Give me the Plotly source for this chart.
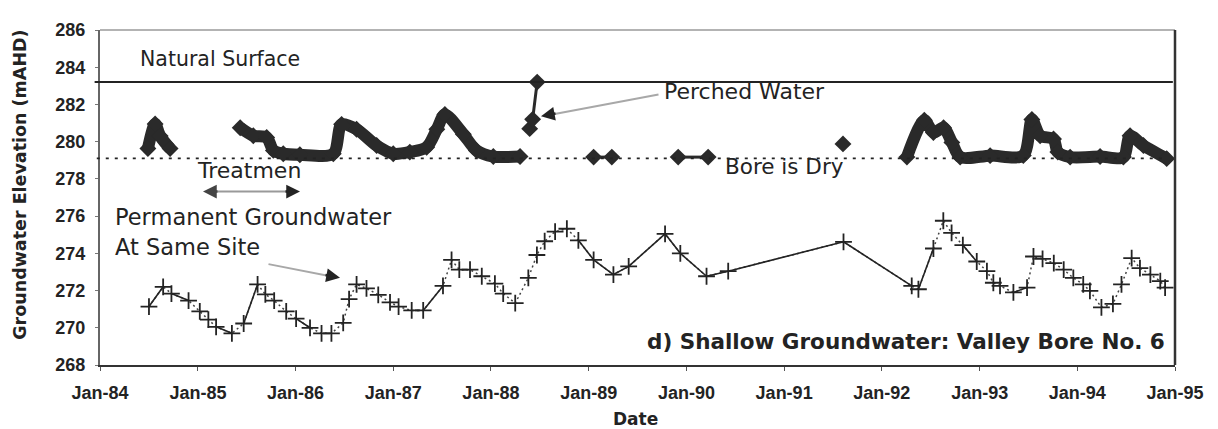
import plotly.graph_objects as go
import pandas as pd

# ---------------- data ----------------
# Permanent groundwater at same site (lower series, mAHD)
perm_dates = [
    "1984-07-02", "1984-08-24", "1984-09-24", "1984-11-27", "1985-01-08", "1985-02-09",
    "1985-03-10", "1985-05-08", "1985-06-21", "1985-08-12", "1985-09-10", "1985-10-13",
    "1985-11-27", "1986-01-03", "1986-02-24", "1986-04-08", "1986-05-15", "1986-06-28",
    "1986-07-20", "1986-08-17", "1986-09-23", "1986-11-06", "1986-12-20", "1987-01-21",
    "1987-03-11", "1987-04-23", "1987-07-06", "1987-08-07", "1987-09-05", "1987-10-15",
    "1987-11-28", "1988-01-16", "1988-02-16", "1988-04-01", "1988-05-20", "1988-06-21",
    "1988-07-20", "1988-08-28", "1988-10-11", "1988-11-23", "1989-01-19", "1989-04-03",
    "1989-05-30", "1989-10-13", "1989-12-09", "1990-03-17", "1990-06-06", "1991-08-11",
    "1992-04-22", "1992-05-17", "1992-07-12", "1992-08-18", "1992-09-18", "1992-10-30",
    "1992-12-21", "1993-01-28", "1993-02-21", "1993-03-18", "1993-05-07", "1993-06-27",
    "1993-07-21", "1993-08-24", "1993-10-05", "1993-11-11", "1993-12-17", "1994-01-23",
    "1994-02-17", "1994-04-01", "1994-05-14", "1994-06-15", "1994-07-23", "1994-08-23",
    "1994-10-01", "1994-11-07", "1994-11-25",
]
perm_values = [
    271.14, 272.2, 271.84, 271.46, 270.88, 270.44,
    270.05, 269.7, 270.23, 272.33, 271.8, 271.46,
    270.88, 270.49, 270.0, 269.7, 269.7, 270.26,
    271.54, 272.33, 272.12, 271.77, 271.37, 271.14,
    270.93, 270.93, 272.25, 273.65, 273.12, 273.12,
    272.77, 272.37, 271.84, 271.32, 272.68, 273.91,
    274.65, 275.17, 275.32, 274.7, 273.65, 272.86,
    273.3, 275.05, 274.0, 272.77, 273.04, 274.62,
    272.25, 272.07, 274.26, 275.75, 275.1, 274.44,
    273.56, 273.04, 272.42, 272.25, 271.9, 272.16,
    273.83, 273.7, 273.47, 273.12, 272.68, 272.33,
    271.98, 271.1, 271.28, 272.33, 273.74, 273.21,
    272.86, 272.51, 272.16,
]

# Perched water (shallow bore) - heavily smeared periods (None = break)
perched_dates = [
    "1984-06-28", "1984-07-25", "1984-08-13", "1984-09-19", None,
    "1985-06-08", "1985-07-27", "1985-09-15", "1985-10-10", "1985-11-16", "1986-01-17",
    "1986-05-22", "1986-06-22", "1986-08-17", "1986-10-31", "1987-01-01", "1987-03-04",
    "1987-05-06", "1987-06-13", "1987-07-13", "1987-09-20", "1987-11-08", "1988-01-10",
    "1988-04-19", None,
    "1992-04-04", "1992-06-08", "1992-07-12", "1992-08-19", "1992-09-19", "1992-10-20",
    "1993-02-09", "1993-06-13", "1993-07-15", "1993-08-15", "1993-10-04", "1993-10-20",
    "1993-12-05", "1994-03-27", "1994-06-22", "1994-07-17", "1994-09-05", "1994-12-01",
]
perched_values = [
    279.63, 280.95, 280.3, 279.63, None,
    280.75, 280.32, 280.23, 279.53, 279.35, 279.3,
    279.35, 280.93, 280.67, 279.79, 279.35, 279.44,
    279.7, 280.67, 281.46, 280.4, 279.53, 279.2,
    279.2, None,
    279.17, 281.15, 280.49, 280.75, 279.96, 279.17,
    279.25, 279.26, 281.19, 280.32, 280.14, 279.44,
    279.17, 279.2, 279.17, 280.32, 279.79, 279.09,
]

# Perched water / dry readings drawn as isolated diamonds
perched_thin_dates = ["1988-05-25", "1988-06-05", "1988-06-22", None,
                      "1989-01-19", "1989-03-28", None,
                      "1989-12-01", "1990-03-23", None,
                      "1991-08-09"]
perched_thin_values = [280.7, 281.2, 283.2, None,
                       279.17, 279.17, None,
                       279.17, 279.17, None,
                       279.88]

natural_surface = 283.2
bore_dry_level = 279.1

x_range = ["1984-01-01", "1995-01-01"]
y_range = [268, 286]

# ---------------- helpers (screen pixel -> paper) ----------------
OFF = 8  # page body margin in the browser
SW, SH = 1218, 429
L, R, T, B = 100, 1175, 23, 365  # plot area in screen pixels
W, H = SW - OFF, SH - OFF


def px(x):
    return (x - L) / (R - L)


def py(y):
    return (B - y) / (B - T)


INK = "#232323"
TXT = "DejaVu Sans"
TICKF = "Liberation Sans"

# solid connectors for long gaps between readings
d = pd.to_datetime(perm_dates)
solid_x, solid_y = [], []
for i in range(1, len(d)):
    if (d[i] - d[i - 1]).days > 50:
        solid_x += [perm_dates[i - 1], perm_dates[i], None]
        solid_y += [perm_values[i - 1], perm_values[i], None]

fig = go.Figure()

# dotted connection line (all readings)
fig.add_trace(go.Scatter(x=perm_dates, y=perm_values, mode="lines",
                         line=dict(color="#444", width=1.5, dash="2px,3px"),
                         hoverinfo="skip", showlegend=False))
fig.add_trace(go.Scatter(x=solid_x, y=solid_y, mode="lines",
                         line=dict(color=INK, width=1.6),
                         hoverinfo="skip", showlegend=False))
fig.add_trace(go.Scatter(x=perm_dates, y=perm_values, mode="markers",
                         marker=dict(symbol="cross-thin", size=12,
                                     line=dict(color=INK, width=1.8)),
                         name="Permanent Groundwater", showlegend=False))

# perched water: thick smeared line
fig.add_trace(go.Scatter(x=perched_dates, y=perched_values, mode="lines+markers",
                         line=dict(color="#2a2a2a", width=12, shape="spline", smoothing=0.8),
                         marker=dict(symbol="diamond", size=13, color="#2a2a2a"),
                         connectgaps=False, name="Perched Water", showlegend=False))
fig.add_trace(go.Scatter(x=perched_thin_dates, y=perched_thin_values, mode="lines+markers",
                         line=dict(color="#2a2a2a", width=3),
                         marker=dict(symbol="diamond", size=13, color="#2a2a2a"),
                         connectgaps=False, showlegend=False))

shapes = [
    # natural surface
    dict(type="line", xref="paper", yref="y", x0=-0.005, x1=0.998,
         y0=natural_surface, y1=natural_surface, line=dict(color=INK, width=2)),
    # bore is dry
    dict(type="line", xref="paper", yref="y", x0=-0.003, x1=0.99,
         y0=bore_dry_level, y1=bore_dry_level, line=dict(color=INK, width=1.6, dash="3px,6px")),
    # top frame
    dict(type="line", xref="paper", yref="paper", x0=0, x1=1, y0=1, y1=1,
         line=dict(color="#9a9a9a", width=1.5)),
    # right frame
    dict(type="line", xref="paper", yref="paper", x0=1, x1=1, y0=0, y1=1,
         line=dict(color="#333", width=2.5)),
]

ann = []


def text(s, x, y, size, xanchor="left", bold=False, color=INK):
    ann.append(dict(text=s, xref="paper", yref="paper", x=px(x), y=py(y),
                    xanchor=xanchor, yanchor="middle", showarrow=False,
                    font=dict(family=TXT, size=size, color=color,
                              weight="bold" if bold else "normal")))


def arrow_line(x0, y0, x1, y1, color="#a8a8a8", width=2):
    ann.append(dict(text="", xref="paper", yref="paper", x=px(x1), y=py(y1),
                    ax=x0 - x1, ay=y0 - y1, axref="pixel", ayref="pixel",
                    showarrow=True, arrowhead=0, arrowwidth=width, arrowcolor=color,
                    standoff=0, startstandoff=0))


def arrow_head(xh, yh, dx, dy, color=INK):
    ann.append(dict(text="", xref="paper", yref="paper", x=px(xh), y=py(yh),
                    ax=dx, ay=dy, showarrow=True, arrowhead=2, arrowsize=1.1,
                    arrowwidth=2.5, arrowcolor=color, standoff=0))


text("Natural Surface", 138, 53, 20.5)
text("Perched Water", 662, 86, 22)
text("Bore is Dry", 723, 162, 21.5)
text("Treatmen", 195, 166, 22)
text("Permanent Groundwater", 113, 214, 22.5)
text("At Same Site", 113, 245, 22.5)
text("d) Shallow Groundwater: Valley Bore No. 6", 1167, 341, 21.5, xanchor="right", bold=True)

# arrows
arrow_line(660, 89, 548, 110)
arrow_head(541, 111, 16, -3)
arrow_line(267, 262, 333, 275)
arrow_head(340, 276, -16, -3)
arrow_line(212, 188, 292, 188, color="#9a9a9a")
arrow_head(203, 188, 16, 0, color="#444")
arrow_head(300, 188, -16, 0)

# axis titles
ann.append(dict(text="Date", xref="paper", yref="paper", x=px(635), y=py(420),
                xanchor="center", yanchor="middle", showarrow=False,
                font=dict(family=TXT, size=17, color=INK, weight="bold")))
ann.append(dict(text="Groundwater Elevation (mAHD)", xref="paper", yref="paper",
                x=px(20), y=py(181), xanchor="center", yanchor="middle",
                textangle=-90, showarrow=False,
                font=dict(family=TXT, size=17.5, color=INK, weight="bold")))

fig.update_layout(
    width=W, height=H, autosize=False,
    margin=dict(l=L - OFF, r=SW - R, t=T - OFF, b=SH - B, pad=0),
    paper_bgcolor="white", plot_bgcolor="white",
    shapes=shapes, annotations=ann, showlegend=False,
    xaxis=dict(type="date", range=x_range, tick0="1984-01-01", dtick="M12",
               tickformat="%b-%y", showgrid=False, zeroline=False,
               showline=True, linecolor="#333", linewidth=2,
               ticks="outside", ticklen=4, tickcolor="#555", tickwidth=1,
               ticklabelstandoff=6,
               tickfont=dict(family=TICKF, size=18, color=INK, weight="bold")),
    yaxis=dict(range=y_range, dtick=2, tick0=268, showgrid=False, zeroline=False,
               showline=True, linecolor="#666", linewidth=2,
               ticks="outside", ticklen=3, tickcolor="#777",
               ticklabelstandoff=6,
               tickfont=dict(family=TICKF, size=18, color=INK, weight="bold")),
)

fig.write_html("out.html")
